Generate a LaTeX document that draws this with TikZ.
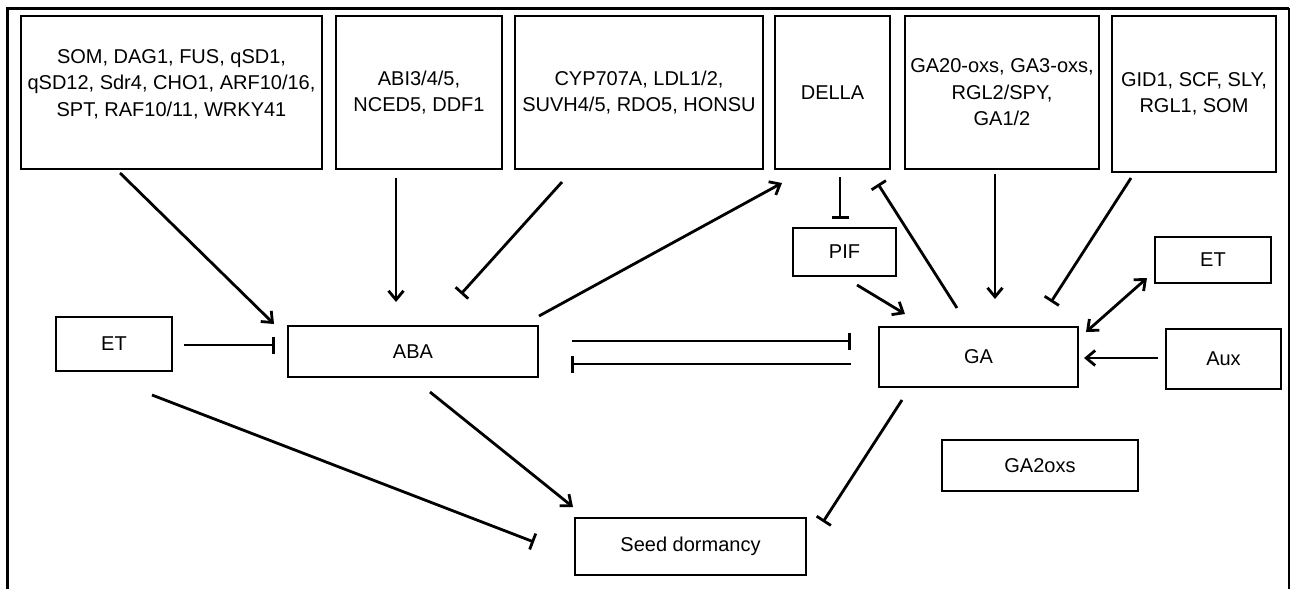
\documentclass[tikz,border=0pt]{standalone}
\usepackage{fontspec}
\setmainfont{Liberation Sans}
\usetikzlibrary{arrows.meta}
\tikzset{
    gene-box/.style = {draw, rectangle, line width=2pt, align=center, minimum height=153pt, inner sep=3pt, font=\fontsize{20}{26.5}\selectfont},
    plain-box/.style = {draw, rectangle, line width=2pt, inner sep=3pt, font=\fontsize{20}{26}\selectfont},
    act-arrow/.style = {line width=2.8pt, -{Straight Barb[length=9pt,width=15pt]}},
    both-arrow/.style = {line width=2.8pt, {Straight Barb[length=9pt,width=15pt]}-{Straight Barb[length=9pt,width=15pt]}},
    inh-line/.style = {line width=2.8pt, -{Bar[width=17pt,line width=2.8pt]}},
}

\begin{document}
\begin{tikzpicture}[x=1pt, y=-1pt]
\useasboundingbox (0,0) rectangle (1291,589);
% frame, open at the bottom
\draw[line width=3pt] (7,589) -- (7,8) -- (1289,8);
\draw[line width=1.5pt] (1289,8) -- (1289,589);

% top row of regulators
\node[gene-box, minimum width=301pt] (sdgenes) at (171.5,92.5) {SOM, DAG1, FUS, qSD1,\\ qSD12, Sdr4, CHO1, ARF10/16,\\ SPT, RAF10/11, WRKY41\\[-7pt]\mbox{}};
\node[gene-box, minimum width=166pt] (abigenes) at (419,92.5) {ABI3/4/5,\\ NCED5, DDF1};
\node[gene-box, minimum width=248pt] (cypgenes) at (639,92.5) {CYP707A, LDL1/2,\\ SUVH4/5, RDO5, HONSU};
\node[gene-box, minimum width=115pt] (della) at (832.5,92.5) {DELLA};
\node[gene-box, minimum width=194pt] (gagenes) at (1002,92.5) {GA20-oxs, GA3-oxs,\\ RGL2/SPY,\\ GA1/2};
\node[gene-box, minimum width=164pt, minimum height=156pt] (gidgenes) at (1194,94) {GID1, SCF, SLY,\\ RGL1, SOM};

% hormones and outputs
\node[plain-box, minimum width=103pt, minimum height=48pt] (pif) at (844.5,252) {PIF};
\node[plain-box, minimum width=116pt, minimum height=54pt] (etl) at (114,344) {ET};
\node[plain-box, minimum width=250pt, minimum height=51pt] (aba) at (413,351.5) {ABA};
\node[plain-box, minimum width=199pt, minimum height=60pt] (ga) at (978.5,357) {GA};
\node[plain-box, minimum width=116pt, minimum height=46pt] (etr) at (1213,260) {ET};
\node[plain-box, minimum width=115pt, minimum height=60pt] (aux) at (1223.5,359) {Aux};
\node[plain-box, minimum width=196pt, minimum height=51pt] (gaox) at (1040,465.5) {GA2oxs};
\node[plain-box, minimum width=231pt, minimum height=57pt] (seed) at (690.5,546.5) {Seed dormancy};

% into ABA
\draw[act-arrow] ([xshift=-51.5pt,yshift=-3pt]sdgenes.south) -- ([xshift=-13pt,yshift=1pt]aba.north west);
\draw[act-arrow] ([xshift=-23pt,yshift=-8pt]abigenes.south) -- ([xshift=-17pt,yshift=23pt]aba.north);
\draw[inh-line] ([xshift=-77pt,yshift=-12pt]cypgenes.south) -- ([xshift=-78pt,yshift=31pt]aba.north east);
\draw[inh-line] ([xshift=11pt,yshift=-1pt]etl.east) -- ([xshift=-12pt,yshift=6.5pt]aba.west);

% DELLA / PIF
\draw[act-arrow] ([yshift=9pt]aba.north east) -- ([xshift=8pt,yshift=-13pt]della.south west);
\draw[inh-line] ([xshift=7.5pt,yshift=-7pt]della.south) -- ([xshift=-4.5pt,yshift=8pt]pif.north);
\draw[act-arrow] ([xshift=12.5pt,yshift=-8pt]pif.south) -- ([xshift=27pt,yshift=12pt]ga.north west);
\draw[inh-line] ([xshift=-21.5pt,yshift=18pt]ga.north) -- ([xshift=-13pt,yshift=-14pt]della.south east);

% into GA
\draw[act-arrow] ([xshift=-7pt,yshift=-4pt]gagenes.south) -- ([xshift=16.5pt,yshift=27pt]ga.north);
\draw[inh-line] ([xshift=-63pt,yshift=-5pt]gidgenes.south) -- ([xshift=-28pt,yshift=24pt]ga.north east);
\draw[both-arrow] ([xshift=7pt,yshift=-6pt]ga.north east) -- ([xshift=-7pt,yshift=6pt]etr.south west);
\draw[act-arrow] ([xshift=-7pt,yshift=1pt]aux.west) -- ([xshift=5pt,yshift=-1pt]ga.east);

% ABA -- GA antagonism
\draw[inh-line] ([xshift=33pt,yshift=10.5pt]aba.east) -- ([xshift=-27pt,yshift=16pt]ga.west);
\draw[inh-line] ([xshift=-27pt,yshift=-7pt]ga.west) -- ([xshift=32pt,yshift=-12.5pt]aba.east);

% seed dormancy
\draw[inh-line] ([xshift=38pt,yshift=-23pt]etl.south) -- ([xshift=-40pt,yshift=4.5pt]seed.west);
\draw[act-arrow] ([xshift=17pt,yshift=-14pt]aba.south) -- ([xshift=-1pt,yshift=10pt]seed.north west);
\draw[inh-line] ([xshift=24pt,yshift=-12pt]ga.south west) -- ([xshift=16pt,yshift=-5pt]seed.north east);
\end{tikzpicture}
\end{document}
